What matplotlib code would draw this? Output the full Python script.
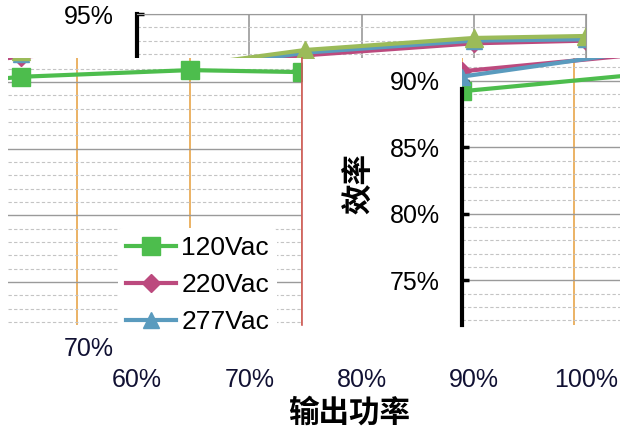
import matplotlib
matplotlib.use('Agg')
import matplotlib.pyplot as plt
from matplotlib.patches import Rectangle
from matplotlib.ticker import PercentFormatter, MultipleLocator

plt.rcParams['font.family'] = ['Liberation Sans', 'Noto Sans CJK SC']

# 输出功率 (%) 与效率 (%)
load = [60, 75, 90, 100]
eff_120 = [89.2, 90.4, 90.9, 90.75]
eff_220 = [90.7, 91.9, 92.8, 93.0]
eff_277 = [90.3, 92.1, 93.0, 93.1]
eff_4 = [90.6, 92.3, 93.2, 93.35]
series_names = ['120Vac', '220Vac', '277Vac']
x_ticks = [60, 70, 80, 90, 100]
x_label = '输出功率'
y_label = '效率'

W, H = 620, 434
# plot area of the original chart, pixels
PX0, PX1 = 137, 586      # 60% .. 100%
PY0, PY1 = 14, 347       # 95% .. 70%
sx = (PX1 - PX0) / 40.0
sy = (PY1 - PY0) / 25.0


def box(x0, y0, x1, y1):
    return [x0 / W, 1 - y1 / H, (x1 - x0) / W, (y1 - y0) / H]


def xval(px):
    return 60 + (px - PX0) / sx


def yval(py):
    return 95 - (py - PY0) / sy


def draw_series(ax, vcolor, fourth=True):
    ax.yaxis.set_major_locator(MultipleLocator(5))
    ax.yaxis.set_minor_locator(MultipleLocator(1))
    ax.xaxis.set_major_locator(MultipleLocator(10))
    ax.grid(True, which='major', axis='y', color='#9a9a9a', lw=1.0)
    ax.grid(True, which='minor', axis='y', color='#c4c4c4', lw=0.8, ls=(0, (3, 2)))
    ax.grid(True, which='major', axis='x', color=vcolor, lw=1.2)
    ax.set_axisbelow(True)
    ax.plot(load, eff_120, color='#4dbd4d', lw=3, marker='s', ms=13, label=series_names[0])
    ax.plot(load, eff_220, color='#bc4a7e', lw=3, marker='D', ms=9, label=series_names[1])
    ax.plot(load, eff_277, color='#5a9bbe', lw=3, marker='^', ms=12, label=series_names[2])
    if fourth:
        ax.plot(load, eff_4, color='#9bbb59', lw=3, marker='^', ms=13, label='_nolegend_')
    for s in ax.spines.values():
        s.set_visible(False)
    ax.tick_params(which='both', length=0, labelleft=False, labelbottom=False)


fig = plt.figure(figsize=(W / 100, H / 100), dpi=100)

# top strip
axA = fig.add_axes(box(PX0, PY0, PX1, 58))
draw_series(axA, '#9a9a9a')
axA.set_xlim(60, 100)
axA.set_ylim(yval(58), 95)
axA.spines['top'].set_visible(True)
axA.spines['top'].set_color('#9a9a9a')
axA.spines['right'].set_visible(True)
axA.spines['right'].set_color('#9a9a9a')
axA.spines['left'].set_visible(True)
axA.spines['left'].set_color('black')
axA.spines['left'].set_linewidth(3)
axA.set_yticks([95])
axA.yaxis.set_major_formatter(PercentFormatter(decimals=0))
axA.tick_params(axis='y', which='major', direction='in', length=5, width=2.5,
                labelleft=True, labelsize=18, pad=17)

# middle strip, left part (shifted)
shift_l = 284
axB1 = fig.add_axes(box(8, 58, 302, 325))
draw_series(axB1, '#e8a64a')
axB1.set_xlim(xval(8 + shift_l), 100)
axB1.set_ylim(yval(325 - 1.5), yval(58 - 1.5))
axB1.spines['right'].set_visible(True)
axB1.spines['right'].set_color('#cc5a5a')
axB1.spines['right'].set_linewidth(1.2)
leg = axB1.legend(loc='upper left', bbox_to_anchor=(118 / W, 1 - 228 / H),
                  bbox_transform=fig.transFigure, fontsize=19, frameon=True,
                  facecolor='white', edgecolor='none', framealpha=1,
                  handlelength=1.9, handletextpad=0.2, labelspacing=0.5,
                  borderpad=0.3, borderaxespad=0)

# middle strip, right part (shifted)
shift_r = 325
axB2 = fig.add_axes(box(462, 58, W, 325))
draw_series(axB2, '#e8a64a', fourth=False)
axB2.set_xlim(60, xval(W - shift_r))
axB2.set_ylim(yval(325), yval(58))
axB2.spines['left'].set_visible(True)
axB2.spines['left'].set_color('black')
axB2.spines['left'].set_linewidth(3)
axB2.spines['left'].set_bounds(yval(325), 89.4)
axB2.set_yticks([75, 80, 85, 90])
axB2.yaxis.set_major_formatter(PercentFormatter(decimals=0))
axB2.tick_params(axis='y', which='major', direction='in', length=5, width=2.5,
                 labelleft=True, labelsize=18, pad=16)
fig.text(359 / W, 1 - 183 / H, y_label, rotation=90, ha='center', va='center',
         fontsize=22, fontweight='bold', family=['Noto Sans CJK SC'])

# bottom strip: tick labels only
axC = fig.add_axes(box(PX0, 330, PX1, PY1))
axC.set_xlim(60, 100)
axC.set_ylim(70, yval(330))
axC.set_xticks(x_ticks)
axC.set_yticks([70])
axC.xaxis.set_major_formatter(PercentFormatter(decimals=0))
axC.yaxis.set_major_formatter(PercentFormatter(decimals=0))
axC.tick_params(length=0, labelsize=18, labelcolor='#111133')
axC.tick_params(axis='x', pad=15)
axC.tick_params(axis='y', pad=17)
axC.patch.set_alpha(0)
for s in axC.spines.values():
    s.set_visible(False)

# legend is cut off at the strip edge
fig.patches.append(Rectangle((116 / W, 1 - 362 / H), 184 / W, 27 / H,
                             transform=fig.transFigure, color='white', zorder=5))

fig.text(349 / W, 1 - 413 / H, x_label, ha='center', va='center',
         fontsize=22, fontweight='bold', family=['Noto Sans CJK SC'])

fig.savefig('out.png', dpi=100)
